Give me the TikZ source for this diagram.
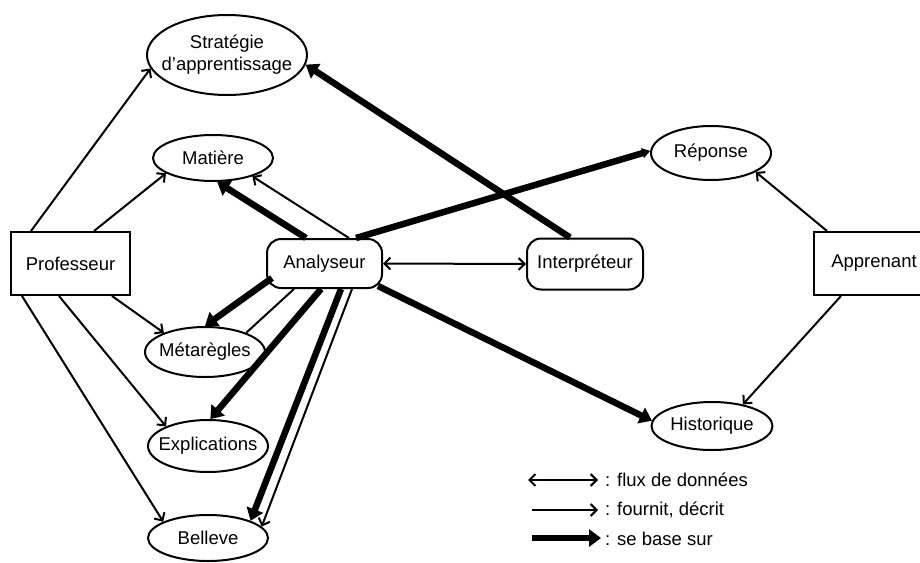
\documentclass[tikz,border=0pt]{standalone}
\usepackage{fontspec}
\setmainfont{Liberation Sans}
\usetikzlibrary{arrows.meta,shapes.geometric}
\newcommand\zw[1]{\makebox[0pt]{#1}}
\begin{document}
\begin{tikzpicture}[x=1pt,y=-1pt,
  every node/.style={font=\fontsize{18.5}{22}\selectfont},
  ell/.style={draw,ellipse,line width=2pt,inner sep=0pt},
  boxnode/.style={draw,rectangle,line width=2pt,inner sep=0pt},
  rbox/.style={draw,rectangle,rounded corners=14pt,line width=2pt,inner sep=0pt},
  fournit/.style={line width=2pt,-{Straight Barb[length=6pt,width=12pt]}},
  base/.style={line width=6.5pt,-{Triangle[length=12pt,width=17pt]}},
  basesoft/.style={line width=6.5pt,-{Triangle[length=8pt,width=10pt]}},
  flux/.style={line width=2pt,{Straight Barb[length=6pt,width=12pt]}-{Straight Barb[length=6pt,width=12pt]}},
  plainline/.style={line width=2pt},
  legtext/.style={anchor=west,inner sep=1pt}
]
\useasboundingbox (0,0) rectangle (920,562);
\fill[white] (0,0) rectangle (920,562);

% nodes
\node[ell,minimum width=160pt,minimum height=80pt,align=center] (strat) at (227,55) {\zw{Stratégie}\\\zw{d'apprentissage}};
\node[ell,minimum width=120pt,minimum height=46pt] (mat) at (213,158) {\zw{Matière}};
\node[boxnode,minimum width=119pt,minimum height=63pt] (prof) at (70.5,263.5) {Professeur};
\node[rbox,minimum width=115pt,minimum height=49pt] (ana) at (324.5,263.5) {Analyseur};
\node[rbox,minimum width=116pt,minimum height=51pt] (int) at (585,264) {Interpréteur};
\node[ell,minimum width=120pt,minimum height=54pt] (rep) at (711,153) {\zw{Réponse}};
\node[boxnode,minimum width=120pt,minimum height=63pt] (app) at (874,263.5) {Apprenant};
\node[ell,minimum width=120pt,minimum height=50pt] (meta) at (205,352) {\zw{Métarègles}};
\node[ell,minimum width=120pt,minimum height=52pt] (expl) at (208,446) {\zw{Explications}};
\node[ell,minimum width=120pt,minimum height=46pt] (bel) at (208,538) {\zw{Belleve}};
\node[ell,minimum width=121pt,minimum height=48pt] (hist) at (712,426) {\zw{Historique}};

% Professeur provides
\draw[fournit] ([xshift=21pt]prof.north west) -- (strat.190);
\draw[fournit] ([xshift=84pt]prof.north west) -- (mat.198);
\draw[fournit] ([xshift=102pt]prof.south west) -- (meta.155);
\draw[fournit] ([xshift=49pt]prof.south west) -- (expl.155);
\draw[fournit] ([xshift=12pt]prof.south west) -- (bel.160);

% Analyseur
\draw[fournit] ([xshift=83pt]ana.north west) -- (mat.-25);
\draw[base] ([xshift=40pt]ana.north west) -- (mat.-80);
\draw[basesoft] ([xshift=90pt]ana.north west) -- (rep.178);
\draw[base] ([xshift=6pt,yshift=11pt]ana.south west) -- (meta.90);
\draw[plainline] (meta.25) -- ([xshift=28pt]ana.south west);
\draw[base] ([xshift=55pt]ana.south west) -- (expl.85);
\draw[base] ([xshift=75pt]ana.south west) -- (bel.22);
\draw[fournit] ([xshift=86pt]ana.south west) -- (bel.12);
\draw[base] ([xshift=-5pt,yshift=3pt]ana.south east) -- (hist.175);
\draw[flux] (ana.east) -- (int.west);

% Interpreteur
\draw[base] ([xshift=-15pt]int.north) -- (strat.-7);

% Apprenant
\draw[fournit] ([xshift=14pt]app.north west) -- (rep.-23);
\draw[fournit] ([xshift=28pt]app.south west) -- (hist.35);

% legend
\coordinate (l1a) at (528,480); \coordinate (l1b) at (598,480);
\coordinate (l2a) at (532,510); \coordinate (l2b) at (598,510);
\coordinate (l3a) at (532,538); \coordinate (l3b) at (601,538);
\draw[flux] (l1a) -- (l1b);
\draw[fournit] (l2a) -- (l2b);
\draw[base] (l3a) -- (l3b);
\node[legtext] (t1) at (604,480) {: flux de données};
\node[legtext] (t2) at (604,510) {: fournit, décrit};
\node[legtext] (t3) at (604,539) {: se base sur};
\end{tikzpicture}
\end{document}
